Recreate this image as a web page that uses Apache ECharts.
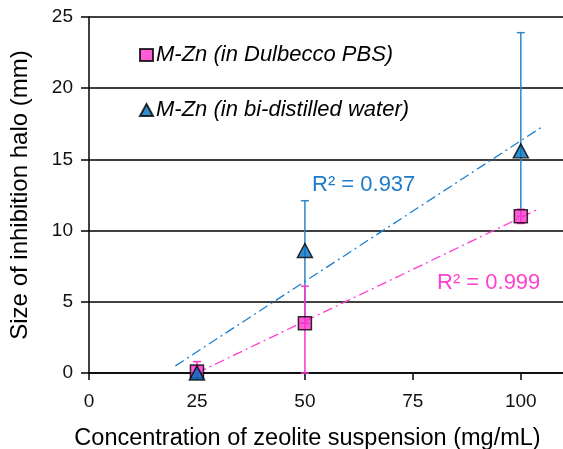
<!DOCTYPE html>
<html>
<head>
<meta charset="utf-8">
<script src="https://cdn.jsdelivr.net/npm/echarts@6/dist/echarts.min.js"></script>
<style>
html, body { margin: 0; padding: 0; background: #fff; }
#chart { width: 563px; height: 449px; }
</style>
</head>
<body>
<div id="chart"></div>
<script>
// data
var conc = [25, 50, 100];
var pbsVals = [0.1, 3.5, 11.0];
var pbsLow = [0, 0, 10.5];
var pbsHigh = [0.8, 6.1, 11.5];
var waterVals = [0, 8.6, 15.6];
var waterLow = [0, 3.5, 11.0];
var waterHigh = [0.5, 12.1, 23.9];
// trend line end points
var pbsTrend = [[25, 0], [104, 11.5]];
var waterTrend = [[20, 0.5], [105, 17.3]];
var xTicks = [0, 25, 50, 75, 100];

var pink = '#FF33CC';
var blue = '#0070C0';

var chart = echarts.init(document.getElementById('chart'));

function pairs(xs, ys) {
    var out = [];
    for (var i = 0; i < xs.length; i++) out.push([xs[i], ys[i]]);
    return out;
}
function errData(xs, lo, hi) {
    var out = [];
    for (var i = 0; i < xs.length; i++) out.push([xs[i], lo[i], hi[i]]);
    return out;
}
function errBar(color) {
    return function (params, api) {
        var top = api.coord([api.value(0), api.value(2)]);
        var bot = api.coord([api.value(0), api.value(1)]);
        var w = 4;
        var st = { stroke: color, lineWidth: 1.5 };
        return {
            type: 'group',
            children: [
                { type: 'line', shape: { x1: top[0], y1: top[1], x2: bot[0], y2: bot[1] }, style: st },
                { type: 'line', shape: { x1: top[0] - w, y1: top[1], x2: top[0] + w, y2: top[1] }, style: st },
                { type: 'line', shape: { x1: bot[0] - w, y1: bot[1], x2: bot[0] + w, y2: bot[1] }, style: st }
            ]
        };
    };
}

var font = 'Liberation Sans, Arial, sans-serif';

var option = {
    animation: false,
    grid: { left: 89, right: -1, top: 17, bottom: 76, containLabel: false, outerBoundsMode: 'none' },
    legend: {
        orient: 'vertical',
        left: 134,
        top: 39,
        itemGap: 33,
        itemWidth: 13,
        itemHeight: 12,
        textStyle: { fontFamily: font, fontSize: 22, fontStyle: 'italic', color: '#000', padding: [0, 0, 0, -2] },
        data: ['M-Zn (in Dulbecco PBS)', 'M-Zn (in bi-distilled water)']
    },
    xAxis: {
        type: 'value',
        min: 0,
        max: 110,
        interval: 25,
        name: 'Concentration of zeolite suspension (mg/mL)',
        nameLocation: 'middle',
        nameGap: 54,
        nameTextStyle: { fontFamily: font, fontSize: 23.5, color: '#000', padding: [0, 38, 0, 0] },
        axisLine: { lineStyle: { color: '#000', width: 1.5 } },
        axisTick: { length: 7, lineStyle: { color: '#000', width: 1.5 } },
        axisLabel: {
            fontFamily: font, fontSize: 19, color: '#111', margin: 19,
            showMaxLabel: false,
            formatter: function (v) { return xTicks.indexOf(v) >= 0 ? String(v) : ''; }
        },
        splitLine: { show: false }
    },
    yAxis: {
        type: 'value',
        min: 0,
        max: 25,
        interval: 5,
        name: 'Size of inhibition halo (mm)',
        nameLocation: 'middle',
        nameGap: 57,
        nameTextStyle: { fontFamily: font, fontSize: 24, color: '#000' },
        axisLine: { show: true, lineStyle: { color: '#000', width: 1.5 } },
        axisTick: { show: true, length: 8, lineStyle: { color: '#000', width: 1.5 } },
        axisLabel: { fontFamily: font, fontSize: 19, color: '#111', margin: 16 },
        splitLine: { lineStyle: { color: '#000', width: 1.5 } }
    },
    graphic: [
        { type: 'text', left: 312, top: 174, style: { text: 'R² = 0.937', fontFamily: font, fontSize: 22, fill: '#1E7BC8' } },
        { type: 'text', left: 437, top: 272, style: { text: 'R² = 0.999', fontFamily: font, fontSize: 22, fill: '#FF40D0' } }
    ],
    series: [
        {
            type: 'custom',
            renderItem: errBar('#2E86C8'),
            data: errData(conc, waterLow, waterHigh),
            z: 2
        },
        {
            type: 'custom',
            renderItem: errBar(pink),
            data: errData(conc, pbsLow, pbsHigh),
            z: 3
        },
        {
            type: 'line',
            data: waterTrend,
            symbol: 'none',
            lineStyle: { color: '#1A7FD0', width: 1.3, type: [10, 4, 2, 4] },
            z: 4
        },
        {
            type: 'line',
            data: pbsTrend,
            symbol: 'none',
            lineStyle: { color: '#FF3FD0', width: 1.3, type: [10, 4, 2, 4] },
            z: 4
        },
        {
            name: 'M-Zn (in Dulbecco PBS)',
            type: 'scatter',
            symbol: 'rect',
            symbolSize: 13,
            itemStyle: { color: pink, borderColor: '#000', borderWidth: 1.5 },
            data: pairs(conc, pbsVals),
            z: 5
        },
        {
            name: 'M-Zn (in bi-distilled water)',
            type: 'scatter',
            symbol: 'triangle',
            symbolSize: [15, 14],
            itemStyle: { color: blue, borderColor: '#000', borderWidth: 1.5 },
            data: pairs(conc, waterVals),
            z: 6
        }
    ]
};

chart.setOption(option);
</script>
</body>
</html>
